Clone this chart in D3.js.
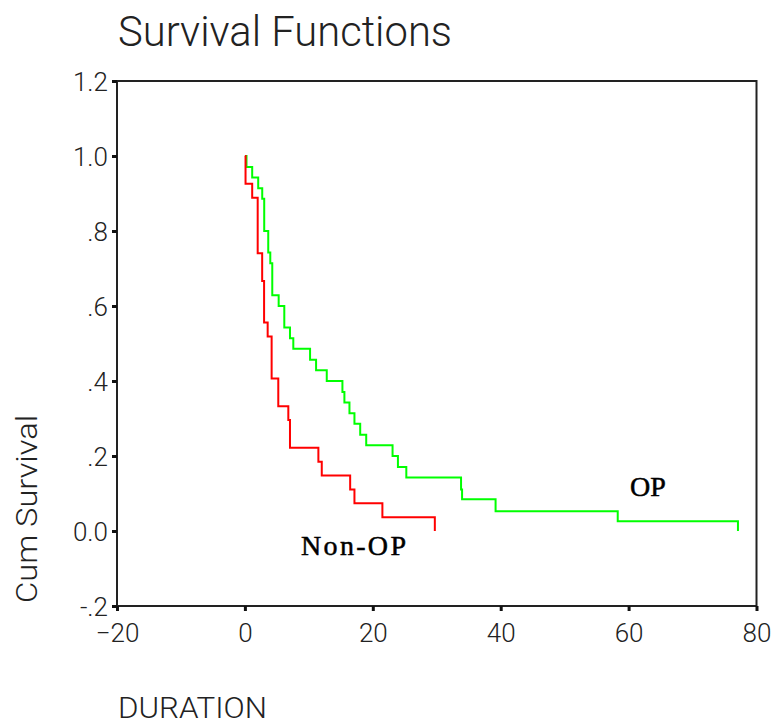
<!DOCTYPE html>
<html>
<head>
<meta charset="utf-8">
<script src="https://cdn.jsdelivr.net/npm/d3@7"></script>
<style>
  html, body { margin: 0; padding: 0; background: #fff; }
  svg { display: block; }
  .lbl { font-family: Roboto, "Liberation Sans", sans-serif; font-weight: 300; fill: #222; }
  .grp { font-family: "Liberation Serif", "Times New Roman", serif; fill: #000; stroke: #000; stroke-width: 0.5; }
</style>
</head>
<body>
<svg id="chart" width="771" height="724"></svg>
<script>
// Kaplan-Meier steps (time, cumulative survival)
const opTimes = [0, 0.25, 1.14, 2.08, 2.71, 3.02, 3.65, 3.97, 4.28, 5.28, 6.16, 7.05, 7.57, 10.19, 11.13, 12.8, 15.25, 15.56, 16.35, 17.13, 18.03, 18.97, 23.09, 23.93, 25.24, 33.8, 33.96, 39.2, 58.3, 77.1];
const opSurv  = [1, 0.971, 0.943, 0.914, 0.886, 0.8, 0.743, 0.714, 0.629, 0.6, 0.543, 0.514, 0.486, 0.457, 0.429, 0.4, 0.371, 0.343, 0.314, 0.286, 0.257, 0.229, 0.2, 0.171, 0.143, 0.111, 0.085, 0.053, 0.026, 0];

const nonOpTimes = [0, 0.1, 1.14, 2.0, 2.7, 3.0, 3.56, 4.18, 5.22, 6.79, 7.05, 11.49, 12.02, 16.46, 17.13, 21.5, 29.7];
const nonOpSurv  = [1, 0.926, 0.889, 0.741, 0.667, 0.556, 0.519, 0.407, 0.333, 0.296, 0.222, 0.185, 0.148, 0.111, 0.074, 0.037, 0];

const xTicks = [-20, 0, 20, 40, 60, 80];
const yTicks = [-0.2, 0, 0.2, 0.4, 0.6, 0.8, 1.0, 1.2];
const yTickLabels = ["-.2", "0.0", ".2", ".4", ".6", ".8", "1.0", "1.2"];

const svg = d3.select("#chart");
const plotL = 117, plotR = 756.5, plotT = 81, plotB = 606;

const x = d3.scaleLinear().domain([-20, 80]).range([plotL, plotR]);
const y = d3.scaleLinear().domain([-0.2, 1.2]).range([plotB, plotT]);

// title
svg.append("text").attr("class", "lbl")
  .attr("x", 118).attr("y", 46)
  .attr("font-size", 42)
  .attr("textLength", 334).attr("lengthAdjust", "spacingAndGlyphs")
  .text("Survival Functions");

// frame
svg.append("rect")
  .attr("x", plotL).attr("y", plotT)
  .attr("width", plotR - plotL).attr("height", plotB - plotT)
  .attr("fill", "none").attr("stroke", "#222").attr("stroke-width", 2);

// axes
const xAxis = svg.append("g")
  .attr("transform", `translate(0,${plotB})`)
  .call(d3.axisBottom(x).tickValues(xTicks).tickSize(5).tickFormat(d3.format("d")));
xAxis.select(".domain").remove();
xAxis.selectAll("line").attr("stroke", "#111").attr("stroke-width", 3);
xAxis.selectAll("text").attr("class", "lbl").attr("font-size", 26)
  .attr("y", 36).attr("dy", 0);

const yAxis = svg.append("g")
  .attr("transform", `translate(${plotL},0)`)
  .call(d3.axisLeft(y).tickValues(yTicks).tickSize(5)
    .tickFormat((d, i) => yTickLabels[i]));
yAxis.select(".domain").remove();
yAxis.selectAll("line").attr("stroke", "#111").attr("stroke-width", 3);
yAxis.selectAll("text").attr("class", "lbl").attr("font-size", 26)
  .attr("x", -9).attr("dy", "0.36em");

// axis titles
svg.append("text").attr("class", "lbl")
  .attr("x", 118).attr("y", 718)
  .attr("font-size", 30)
  .attr("textLength", 149).attr("lengthAdjust", "spacingAndGlyphs")
  .text("DURATION");

svg.append("text").attr("class", "lbl")
  .attr("transform", "translate(37,603) rotate(-90)")
  .attr("font-size", 30)
  .attr("textLength", 188).attr("lengthAdjust", "spacingAndGlyphs")
  .text("Cum Survival");

// survival curves
const line = d3.line()
  .x(d => x(d[0]))
  .y(d => y(d[1]))
  .curve(d3.curveStepAfter);

svg.append("path")
  .datum(d3.zip(opTimes, opSurv))
  .attr("d", line)
  .attr("fill", "none").attr("stroke", "#00ff00").attr("stroke-width", 2);

svg.append("path")
  .datum(d3.zip(nonOpTimes, nonOpSurv))
  .attr("d", line)
  .attr("fill", "none").attr("stroke", "#ff0000").attr("stroke-width", 2);

// group labels
svg.append("text").attr("class", "grp")
  .attr("x", 630).attr("y", 496)
  .attr("font-size", 28)
  .text("OP");

svg.append("text").attr("class", "grp")
  .attr("x", 301).attr("y", 555)
  .attr("font-size", 28)
  .attr("textLength", 105).attr("lengthAdjust", "spacing")
  .text("Non-OP");
</script>
</body>
</html>
